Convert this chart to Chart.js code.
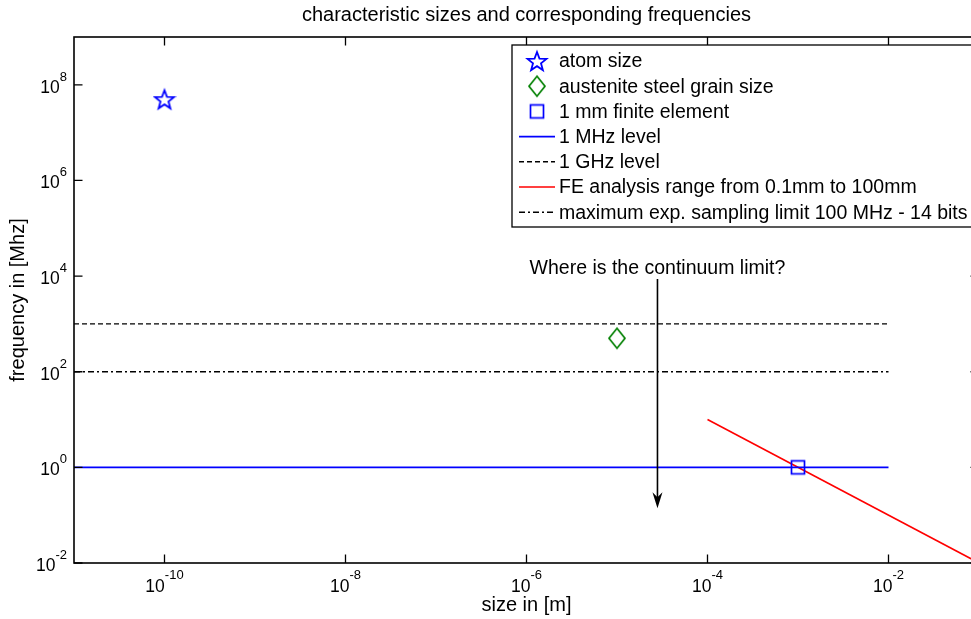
<!DOCTYPE html>
<html>
<head>
<meta charset="utf-8">
<script src="https://cdn.jsdelivr.net/npm/chart.js@4.4.0/dist/chart.umd.min.js"></script>
<style>
  html, body { margin: 0; padding: 0; background: #fff; overflow: hidden; }
  canvas { display: block; }
</style>
</head>
<body>
<canvas id="c" width="990" height="619"></canvas>
<script>
// ─── data ─────────────────────────────────────────────────────────────────────
const xTicks = [1e-10, 1e-8, 1e-6, 1e-4, 1e-2];
const yTicks = [1e-2, 1e0, 1e2, 1e4, 1e6, 1e8];
const xExp   = ['-10', '-8', '-6', '-4', '-2'];
const yExp   = ['-2', '0', '2', '4', '6', '8'];

const atomSize  = [1e-10]; const atomFreq  = [5e7];
const grainSize = [1e-5];  const grainFreq = [500];
const feSize    = [1e-3];  const feFreq    = [1];

const levelSize     = [1e-11, 1e-2];
const mhzLevel      = [1, 1];
const ghzLevel      = [1000, 1000];
const samplingLevel = [100, 100];

const feRangeSize = [1e-4, 1e-1];
const feRangeFreq = [10, 0.01];

const arrowSize = 2.8e-5;
const arrowFreq = [8700, 0.14];   // from, to
const arrowText = 'Where is the continuum limit?';

const FONT = '"Liberation Sans", Arial, sans-serif';
const BLUE = '#0000ff', GREEN = '#008000', RED = '#ff0000';

const pts = (xs, ys) => xs.map((x, i) => ({ x, y: ys[i] }));

// ─── marker images (MATLAB style) ─────────────────────────────────────────────
function markerCanvas(w, h, draw) {
  const c = document.createElement('canvas');
  c.width = w; c.height = h;
  const g = c.getContext('2d');
  draw(g, w / 2, h / 2);
  return c;
}
const starImg = markerCanvas(24, 24, (g, cx, cy) => {
  const R = 10, r = 4.2;
  g.beginPath();
  for (let i = 0; i < 10; i++) {
    const a = -Math.PI / 2 + i * Math.PI / 5;
    const rad = i % 2 ? r : R;
    g.lineTo(cx + rad * Math.cos(a), cy + 1 + rad * Math.sin(a));
  }
  g.closePath();
  g.strokeStyle = BLUE; g.lineWidth = 1.8; g.stroke();
});
const diamondImg = markerCanvas(22, 26, (g, cx, cy) => {
  g.beginPath();
  g.moveTo(cx, cy - 10); g.lineTo(cx + 8, cy); g.lineTo(cx, cy + 10); g.lineTo(cx - 8, cy);
  g.closePath();
  g.strokeStyle = GREEN; g.lineWidth = 1.7; g.stroke();
});
const squareImg = markerCanvas(20, 20, (g, cx, cy) => {
  g.strokeStyle = BLUE; g.lineWidth = 1.7;
  g.strokeRect(cx - 6.5, cy - 6.5, 13, 13);
});

// ─── plugin: frame, ticks, labels, legend, annotation ─────────────────────────
const matlabAxes = {
  id: 'matlabAxes',
  afterDatasetsDraw(chart) {
    const { ctx, chartArea: a, scales: { x, y } } = chart;
    ctx.save();

    // annotation arrow
    const ax = x.getPixelForValue(arrowSize);
    const ay0 = y.getPixelForValue(arrowFreq[0]);
    const ay1 = y.getPixelForValue(arrowFreq[1]);
    ctx.strokeStyle = '#000'; ctx.lineWidth = 1.6;
    ctx.beginPath(); ctx.moveTo(ax, ay0); ctx.lineTo(ax, ay1 - 8); ctx.stroke();
    ctx.fillStyle = '#000';
    ctx.beginPath();
    ctx.moveTo(ax, ay1); ctx.lineTo(ax - 5, ay1 - 16); ctx.lineTo(ax, ay1 - 11); ctx.lineTo(ax + 5, ay1 - 16);
    ctx.closePath(); ctx.fill();
    ctx.font = '19.5px ' + FONT; ctx.textAlign = 'center'; ctx.textBaseline = 'bottom';
    ctx.fillText(arrowText, ax, ay0 - 1);

    // frame
    ctx.strokeStyle = '#000'; ctx.lineWidth = 1.6;
    ctx.strokeRect(a.left, a.top, a.right - a.left, a.bottom - a.top);

    // ticks (inward, mirrored)
    const TL = 8.5;
    ctx.lineWidth = 1.3;
    ctx.beginPath();
    xTicks.forEach(v => {
      const px = x.getPixelForValue(v);
      ctx.moveTo(px, a.bottom); ctx.lineTo(px, a.bottom - TL);
      ctx.moveTo(px, a.top);    ctx.lineTo(px, a.top + TL);
    });
    yTicks.forEach(v => {
      const py = y.getPixelForValue(v);
      ctx.moveTo(a.left, py);  ctx.lineTo(a.left + TL, py);
      ctx.moveTo(a.right, py); ctx.lineTo(a.right - TL, py);
    });
    ctx.stroke();

    // tick labels: 10 with superscript
    const base = '17.5px ' + FONT, sup = '13px ' + FONT;
    ctx.textBaseline = 'alphabetic';
    xTicks.forEach((v, i) => {
      const px = x.getPixelForValue(v);
      ctx.font = base; const w1 = ctx.measureText('10').width;
      ctx.font = sup;  const w2 = ctx.measureText(xExp[i]).width;
      const left = px - (w1 + w2) / 2;
      ctx.textAlign = 'left';
      ctx.font = base; ctx.fillText('10', left, a.bottom + 29);
      ctx.font = sup;  ctx.fillText(xExp[i], left + w1, a.bottom + 16);
    });
    yTicks.forEach((v, i) => {
      const py = y.getPixelForValue(v);
      ctx.font = sup;  const w2 = ctx.measureText(yExp[i]).width;
      ctx.font = base; const w1 = ctx.measureText('10').width;
      const right = a.left - 7;
      ctx.textAlign = 'left';
      ctx.font = base; ctx.fillText('10', right - w2 - w1, py + 8);
      ctx.font = sup;  ctx.fillText(yExp[i], right - w2, py - 4);
    });

    // axis titles and chart title
    ctx.font = '20px ' + FONT; ctx.textAlign = 'center'; ctx.textBaseline = 'middle';
    const cx = (a.left + a.right) / 2;
    ctx.fillText('characteristic sizes and corresponding frequencies', cx, 15);
    ctx.fillText('size in [m]', cx, a.bottom + 42);
    ctx.save();
    ctx.translate(18, (a.top + a.bottom) / 2); ctx.rotate(-Math.PI / 2);
    ctx.fillText('frequency in [Mhz]', 0, 0);
    ctx.restore();

    // legend
    const lx = 512, ly = 45, lh = 182, row = 25.2, r0 = 61;
    ctx.fillStyle = '#fff';
    ctx.fillRect(lx, ly, 500, lh);
    ctx.strokeStyle = '#000'; ctx.lineWidth = 1.3;
    ctx.strokeRect(lx, ly, 500, lh);
    ctx.font = '19.5px ' + FONT; ctx.textAlign = 'left'; ctx.textBaseline = 'middle';
    chart.data.datasets.forEach((ds, i) => {
      const ry = r0 + i * row;
      if (ds.showLine === false) {
        const img = ds.pointStyle;
        ctx.drawImage(img, 537 - img.width / 2, ry - img.height / 2);
      } else {
        ctx.strokeStyle = ds.borderColor; ctx.lineWidth = ds.borderWidth;
        ctx.setLineDash(ds.borderDash || []);
        ctx.beginPath(); ctx.moveTo(519, ry); ctx.lineTo(555, ry); ctx.stroke();
        ctx.setLineDash([]);
      }
      ctx.fillStyle = '#000';
      ctx.fillText(ds.label, 559, ry + 1);
    });

    ctx.restore();
  },
};

// ─── chart ───────────────────────────────────────────────────────────────────
const lineDs = (label, data, color, dash, width) => ({
  label, data, borderColor: color, borderWidth: width || 1.5, borderDash: dash,
  showLine: true, pointRadius: 0, fill: false,
});
const markerDs = (label, data, img) => ({
  label, data, showLine: false, pointStyle: img, pointRadius: 10,
});

new Chart(document.getElementById('c'), {
  type: 'scatter',
  data: {
    datasets: [
      markerDs('atom size', pts(atomSize, atomFreq), starImg),
      markerDs('austenite steel grain size', pts(grainSize, grainFreq), diamondImg),
      markerDs('1 mm finite element', pts(feSize, feFreq), squareImg),
      lineDs('1 MHz level', pts(levelSize, mhzLevel), BLUE, [], 1.6),
      lineDs('1 GHz level', pts(levelSize, ghzLevel), '#000', [5, 3], 1.4),
      lineDs('FE analysis range from 0.1mm to 100mm', pts(feRangeSize, feRangeFreq), RED, [], 1.6),
      lineDs('maximum exp. sampling limit 100 MHz - 14 bits', pts(levelSize, samplingLevel), '#000', [6, 3, 2, 3], 1.4),
    ],
  },
  options: {
    responsive: false, animation: false, devicePixelRatio: 1,
    layout: { padding: { left: 74, right: 9, top: 37, bottom: 56 } },
    plugins: { legend: { display: false }, title: { display: false }, tooltip: { enabled: false } },
    scales: {
      x: { type: 'logarithmic', min: 1e-11, max: 1e-1, display: false },
      y: { type: 'logarithmic', min: 1e-2, max: 1e9, display: false },
    },
  },
  plugins: [matlabAxes],
});
</script>
</body>
</html>
